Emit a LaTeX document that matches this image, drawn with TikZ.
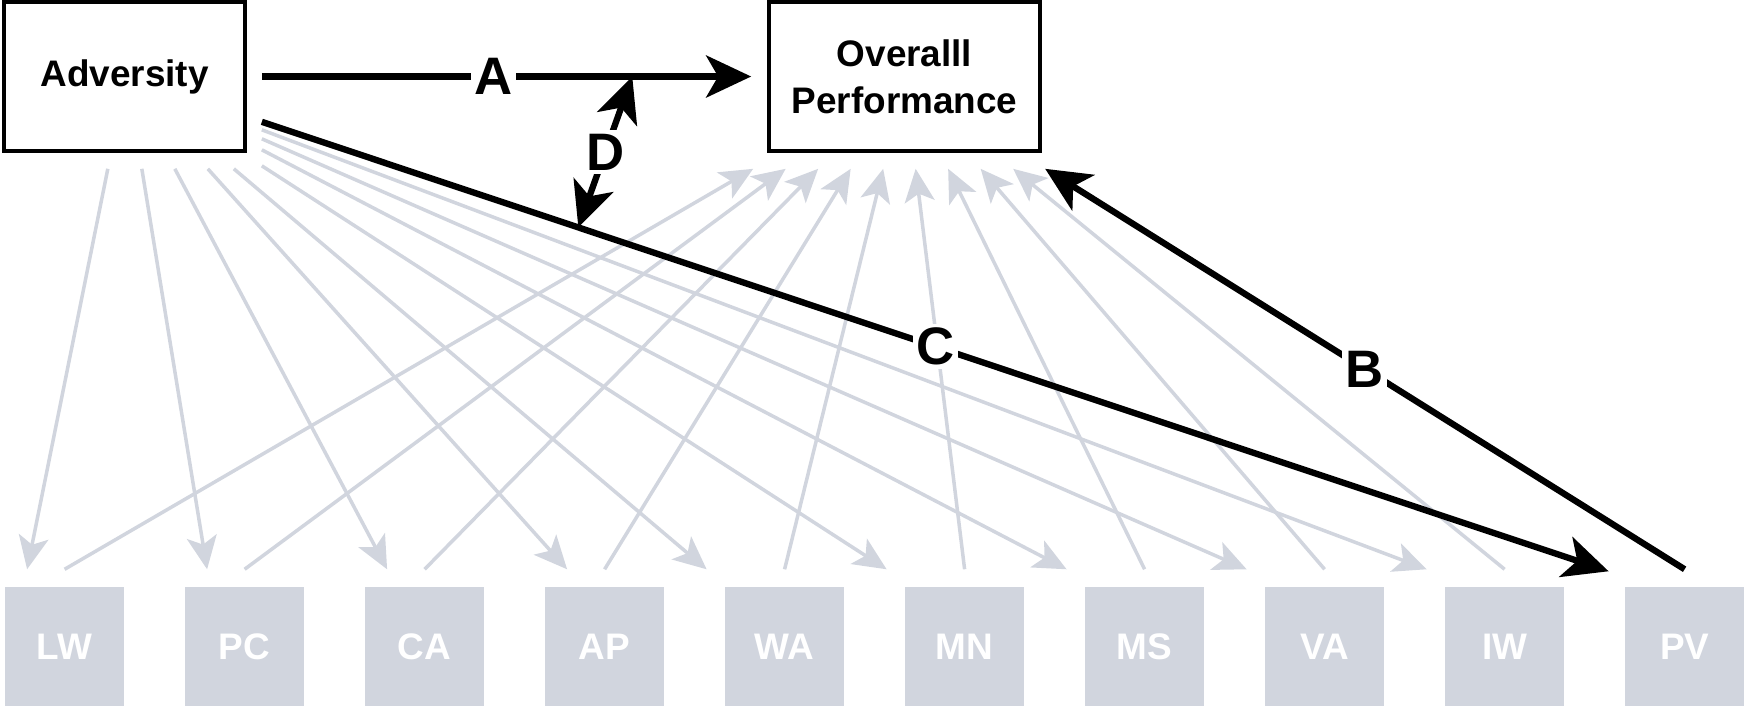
\documentclass[tikz,border=0pt]{standalone}
\usepackage{fontspec}
\setmainfont{Liberation Sans}
\usetikzlibrary{arrows.meta,calc,positioning}
\definecolor{softgray}{HTML}{D1D5DE}

\begin{document}
\begin{tikzpicture}[
  x=0.01cm,y=-0.01cm,
  box/.style={draw,line width=1pt,align=center,font=\fontsize{10.5}{13.4}\selectfont\bfseries},
  item/.style={fill=softgray,minimum width=1.19cm,minimum height=1.19cm,text=white,font=\fontsize{10.5}{12}\selectfont\bfseries},
  lbl/.style={fill=white,inner sep=1pt,font=\fontsize{15}{16}\selectfont\bfseries},
  arr/.style={-{Stealth[length=0.45cm,width=0.42cm,inset=0.12cm]},line width=1.8pt},
  garr/.style={-{Stealth[length=0.33cm,width=0.3cm,inset=0.08cm]},softgray,line width=1pt}
]
  \useasboundingbox (0,0) rectangle (1746,711);
  \node[box,minimum width=2.41cm,minimum height=1.49cm] (adv) at (124.5,76.5) {Adversity};
  \node[box,minimum width=2.71cm,minimum height=1.49cm] (perf) at (904.5,76.5) {Overalll\\Performance};
  \foreach \name [count=\i from 0] in {LW,PC,CA,AP,WA,MN,MS,VA,IW,PV}
    \node[item] (\name) at (64.6+180*\i,646.5) {\name};

  % adversity to each item
  \foreach \name/\sx/\sy/\ex in {LW/-139/16/-37.5,PC/-105/16/-37.5,CA/-72/16/-37.5,
      AP/-39/16/-37.5,WA/-13/16/-78,MN/15/13/-78,MS/15/-3/-78,VA/15/-14/-78,IW/15/-23/-78}
    \draw[garr] ($(adv.south east)+(\sx,\sy)$) -- ($(\name.north)+(\ex,-17)$);
  % each item to performance
  \foreach \name [count=\i from 0] in {LW,PC,CA,AP,WA,MN,MS,VA,IW}
    \draw[garr] ($(\name.north)+(0,-17)$) -- ($(perf.south west)+(-14+32.5*\i,16)$);

  \draw[arr] ($(adv.east)+(15,0)$) -- node[pos=0.473,lbl]{A} coordinate[pos=0.757] (dtop) ($(perf.west)+(-16,0)$);
  \draw[arr] ($(adv.south east)+(15,-31)$) -- node[lbl]{C} coordinate[pos=0.235] (dbot) ($(PV.north)+(-76,-15)$);
  \draw[arr] ($(PV.north)+(0,-17)$) -- node[lbl]{B} ($(perf.south west)+(278,16)$);
  \draw[arr,{Stealth[length=0.45cm,width=0.42cm,inset=0.12cm]}-{Stealth[length=0.45cm,width=0.42cm,inset=0.12cm]}] (dtop) -- node[lbl]{D} (dbot);
\end{tikzpicture}
\end{document}
